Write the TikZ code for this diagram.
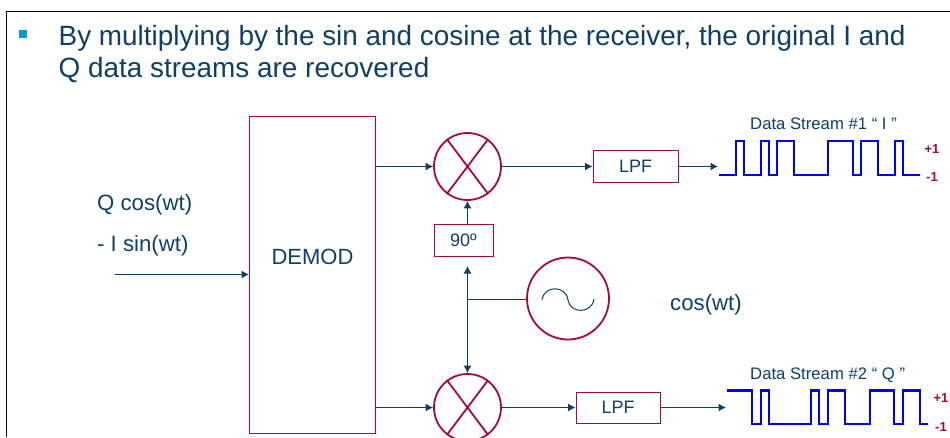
\documentclass[tikz,border=0pt]{standalone}
\usepackage{fontspec}
\setmainfont{Liberation Sans}
\usetikzlibrary{arrows.meta}
\definecolor{navy}{HTML}{0F3F66}
\definecolor{wine}{HTML}{A50A3C}
\definecolor{sigblue}{HTML}{0000F5}
\definecolor{bul}{HTML}{0A96D7}
\tikzset{
 wire/.style={draw=navy,line width=1pt,-{Latex[length=7.5pt,width=8pt]}},
 plain/.style={draw=navy,line width=1pt},
 boxn/.style={draw=wine,line width=1pt,fill=white,text=navy,font=\fontsize{18}{20}\selectfont,inner sep=0pt,anchor=center},
 mixn/.style={circle,draw=wine,line width=1.8pt,minimum size=67pt,inner sep=0pt},
 cross/.style={draw=wine,line width=1.8pt},
 lab/.style={text=navy,inner sep=0pt,anchor=base west},
 wave/.style={draw=sigblue,line width=2.3pt},
 lvl/.style={text=wine,inner sep=0pt,font=\bfseries\fontsize{13}{15}\selectfont},
}
\begin{document}
\begin{tikzpicture}[x=1pt,y=-1pt]
\useasboundingbox (0,0) rectangle (950,437);
\draw[black,line width=1pt] (6.5,437) -- (6.5,11.5) -- (950,11.5);
\node[fill=bul,minimum size=8pt,inner sep=0pt] (bullet) at (22.7,34) {};
\node[lab,font=\fontsize{27.9}{32}\selectfont] (t1) at (58.5,45) {By multiplying by the sin and cosine at the receiver, the original I and};
\node[lab,font=\fontsize{27.9}{32}\selectfont] (t2) at (58.5,77) {Q data streams are recovered};
\node[boxn,minimum width=126pt,minimum height=317pt] (demod) at (312.5,275) {};
\node[lab,anchor=center,font=\fontsize{22}{24}\selectfont] (dm) at (312.5,257) {DEMOD};
\node[mixn] (m1) at (467.5,166.5) {};
\node[mixn] (m2) at (467.5,407.5) {};
\draw[cross] (m1.53)--(m1.233) (m1.127)--(m1.307);
\draw[cross] (m2.53)--(m2.233) (m2.127)--(m2.307);
\node[boxn,minimum width=59pt,minimum height=32pt] (d90) at (463.5,240.5) {90º};
\coordinate (in) at (115,274.5);
\coordinate (tee) at (467.5,299.5);
\coordinate (up) at (467.5,266);
\coordinate (s1) at (718,166.5);
\coordinate (s2) at (726,407.5);
\node[circle,draw=wine,line width=1.8pt,minimum size=82pt,inner sep=0pt,fill=white] (osc) at (568,298.5) {};
\draw[navy,line width=1pt] (542,300) .. controls (544,285) and (566,285) .. (568,300) .. controls (570,314) and (592,314) .. (594,299);
\node[boxn,minimum width=85pt,minimum height=32pt] (lpf1) at (635.5,166) {LPF};
\node[boxn,minimum width=84pt,minimum height=31pt] (lpf2) at (618,407.5) {LPF};
\draw[wire] (in) -- (demod.west |- in);
\draw[wire] (demod.east |- m1) -- (m1);
\draw[wire] (demod.east |- m2) -- (m2);
\draw[wire] (m1) -- (lpf1.west |- m1);
\draw[wire] (m2) -- (lpf2);
\draw[wire] (lpf1.east |- s1) -- (s1);
\draw[wire] (lpf2) -- (s2);
\draw[wire] (d90.north -| m1) -- (m1);
\draw[plain] (tee -| osc.west) -- (tee);
\draw[wire] (tee) -- (up);
\draw[wire] (tee) -- (m2);
\node[lab,font=\fontsize{22.2}{24}\selectfont] (q) at (97,210) {Q cos(wt)};
\node[lab,font=\fontsize{22.2}{24}\selectfont] (i) at (97,251) {- I sin(wt)};
\node[lab,font=\fontsize{22.2}{24}\selectfont] (c) at (670,310) {cos(wt)};
\node[lab,font=\fontsize{16.7}{19}\selectfont] (ds1) at (750,129) {Data Stream \#1 “ I ”};
\node[lab,font=\fontsize{16.7}{19}\selectfont] (ds2) at (750,379) {Data Stream \#2 “ Q ”};
\draw[wave] (719,175)-|(736,141)-|(744,175)-|(761,141)-|(769,175)-|(777,141)-|(794,175)-|(828,141)-|(853,175)-|(861,141)-|(878,175)-|(895,141)-|(903,175)--(920,175);
\draw[wave] (727,390.5)-|(752,424)-|(761,390.5)-|(769,424)-|(811,390.5)-|(819,424)-|(828,390.5)-|(845,424)-|(870,390.5)-|(894,424)-|(903,390.5)-|(920,424)--(928,424);
\node[lvl] (p1) at (932,149) {+1};
\node[lvl] (m1l) at (932,177) {-1};
\node[lvl] (p2) at (941,398) {+1};
\node[lvl] (m2l) at (941,427) {-1};
\end{tikzpicture}
\end{document}
